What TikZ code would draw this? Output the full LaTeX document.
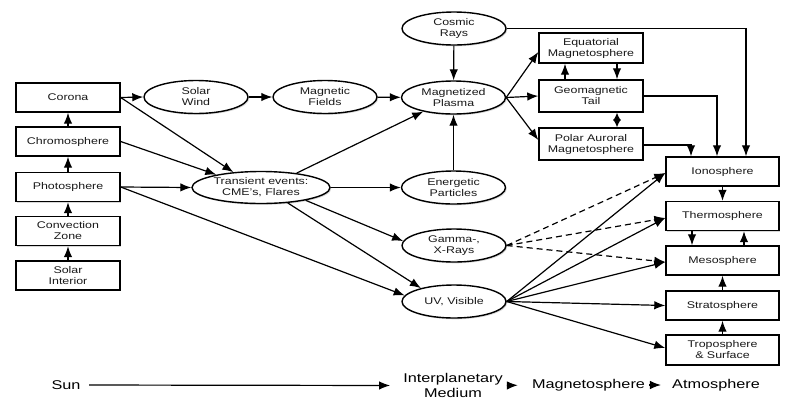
\documentclass[tikz,border=0pt]{standalone}
\usepackage{fontspec}
\setmainfont{Liberation Sans}[FakeStretch=1.28]
\usetikzlibrary{arrows.meta,shapes.geometric,shadows}
\begin{document}
\begin{tikzpicture}[x=1pt,y=-1pt,
  base/.style={draw=black, line width=1.4pt, fill=white, align=center,
    font=\fontsize{9.7}{11}\selectfont, text=black!90, inner sep=0pt,
    drop shadow={opacity=0.3,shadow xshift=1.3pt,shadow yshift=-1.3pt}},
  box/.style={base, rectangle, minimum width=104pt, minimum height=29pt},
  abox/.style={box, minimum width=113pt},
  oval/.style={base, ellipse, minimum width=104pt, minimum height=33pt},
  conn/.style={line width=1.2pt, draw=black, -{Latex[length=11pt,width=8.5pt]}},
  both/.style={line width=1.2pt, draw=black, {Latex[length=8pt,width=8pt]}-{Latex[length=8pt,width=8pt]}},
  dconn/.style={conn, dash pattern=on 6pt off 4pt},
  lbl/.style={font=\fontsize{12.7}{15}\selectfont, text=black, inner sep=0pt, align=center}
]
\useasboundingbox (0,0) rectangle (786,413);
\fill[white] (0,0) rectangle (786,413);

% Sun column
\node[box] (corona) at (68,97.5) {Corona};
\node[box] (chromo) at (68,141.5) {Chromosphere};
\node[box] (photo) at (68,187) {Photosphere};
\node[box] (conv) at (68,231) {Convection\\Zone};
\node[box] (interior) at (68,275.5) {Solar\\Interior};

% Interplanetary medium
\node[oval] (wind) at (196,97) {Solar\\Wind};
\node[oval] (fields) at (325,97) {Magnetic\\Fields};
\node[oval] (plasma) at (453.5,97.5) {Magnetized\\Plasma};
\node[oval] (cosmic) at (454,28.5) {Cosmic\\Rays};
\node[oval, minimum width=138pt, minimum height=32pt] (transient) at (261,187.5) {Transient events:\\CME's, Flares};
\node[oval] (energetic) at (453.5,187.5) {Energetic\\Particles};
\node[oval] (gamma) at (454,245.5) {Gamma-,\\X-Rays};
\node[oval] (uv) at (454,301.5) {UV, Visible};

% Magnetosphere
\node[box, minimum height=30pt] (equatorial) at (591,48) {Equatorial\\Magnetosphere};
\node[box, minimum height=32pt] (tail) at (591,96) {Geomagnetic\\Tail};
\node[box, minimum height=32pt] (polar) at (591,144) {Polar Auroral\\Magnetosphere};

% Atmosphere
\node[abox] (iono) at (722.5,171.5) {Ionosphere};
\node[abox] (thermo) at (722.5,216) {Thermosphere};
\node[abox] (meso) at (722.5,260.5) {Mesosphere};
\node[abox] (strato) at (722.5,305.5) {Stratosphere};
\node[abox, minimum height=30pt] (tropo) at (722.5,350) {Troposphere\\\& Surface};

% Sun column arrows
\draw[conn] (chromo) -- (corona);
\draw[conn] (photo) -- (chromo);
\draw[conn] (conv) -- (photo);
\draw[conn] (interior) -- (conv);

% Sun to medium
\draw[conn] (corona.east) -- (wind.west);
\draw[conn] (corona.east) -- (transient.151);
\draw[conn] (chromo.east) -- (transient.164);
\draw[conn] (photo.east) -- (transient.west);
\draw[conn] (photo.east) -- (uv.173);

% Medium
\draw[conn] (wind) -- (fields);
\draw[conn] (fields) -- (plasma);
\draw[conn] (transient.22) -- (plasma.205);
\draw[conn] (transient.east) -- (energetic.west);
\draw[conn] (transient.344) -- (gamma.175);
\draw[conn] (transient.330) -- (uv.158);
\draw[conn] (cosmic) -- (plasma);
\draw[conn] (energetic) -- (plasma);

% Plasma to magnetosphere
\draw[conn] (plasma.east) -- ([yshift=-4pt]equatorial.west);
\draw[conn] (plasma.east) -- (tail.west);
\draw[conn] (plasma.east) -- ([yshift=4pt]polar.west);
\draw[conn] ([xshift=-26pt]tail.north) -- ([xshift=-26pt]equatorial.south);
\draw[conn] ([xshift=26pt]equatorial.south) -- ([xshift=26pt]tail.north);
\draw[both] ([xshift=26pt]tail.south) -- ([xshift=26pt]polar.north);

% To ionosphere
\draw[conn] (cosmic.east) -| ([xshift=23.5pt]iono.north);
\draw[conn] (tail.east) -| ([xshift=-5.5pt]iono.north);
\draw[conn] ([yshift=-1pt]polar.east) -| ([xshift=-31.5pt]iono.north);

% Gamma dashed
\draw[dconn] (gamma.east) -- ([yshift=-1.5pt]iono.west);
\draw[dconn] (gamma.east) -- ([yshift=-2pt]thermo.west);
\draw[dconn] (gamma.east) -- ([yshift=-1.5pt]meso.west);

% UV solid
\draw[conn] (uv.east) -- ([yshift=-1.5pt]iono.west);
\draw[conn] (uv.east) -- ([yshift=-2pt]thermo.west);
\draw[conn] (uv.east) -- ([yshift=-1.5pt]meso.west);
\draw[conn] (uv.east) -- (strato.west);
\draw[conn] (uv.east) -- ([yshift=2pt]tropo.west);

% Atmosphere arrows
\draw[conn] (iono) -- (thermo);
\draw[conn] ([xshift=-30.5pt]thermo.south) -- ([xshift=-30.5pt]meso.north);
\draw[conn] ([xshift=21.5pt]meso.north) -- ([xshift=21.5pt]thermo.south);
\draw[conn] (strato) -- (meso);
\draw[conn] (tropo) -- (strato);

% Bottom legend
\node[lbl] (sun) at (66,385) {Sun};
\node[lbl] (ipm) at (453,385.5) {Interplanetary\\Medium};
\node[lbl] (mag) at (588.5,385) {Magnetosphere};
\node[lbl] (atm) at (716,385) {Atmosphere};
\draw[conn, shorten <=8.5pt, shorten >=13pt] (sun.east) -- (ipm.west);
\draw[conn, shorten <=4pt, shorten >=14pt] (ipm.east) -- (mag.west);
\draw[conn, shorten <=4pt, shorten >=11pt] (mag.east) -- (atm.west);
\end{tikzpicture}
\end{document}
